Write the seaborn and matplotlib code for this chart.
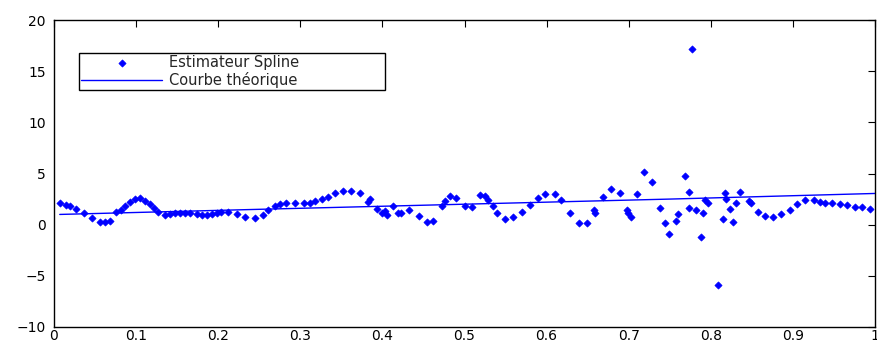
import numpy as np
import pandas as pd
import matplotlib
matplotlib.use("Agg")
import matplotlib.pyplot as plt
import seaborn as sns

# Spline estimate: sample positions and estimated values
x_est = [0.007, 0.015, 0.020, 0.027, 0.036, 0.046, 0.056, 0.062, 0.068, 0.076,
         0.081, 0.086, 0.093, 0.099, 0.105, 0.111, 0.117, 0.122, 0.127, 0.135,
         0.141, 0.147, 0.153, 0.160, 0.166, 0.174, 0.180, 0.186, 0.192, 0.198,
         0.204, 0.212, 0.223, 0.233, 0.245, 0.255, 0.261, 0.269, 0.275, 0.283,
         0.294, 0.304, 0.312, 0.318, 0.326, 0.334, 0.342, 0.352, 0.362, 0.373,
         0.383, 0.385, 0.393, 0.399, 0.403, 0.405, 0.413, 0.419, 0.423, 0.432,
         0.444, 0.454, 0.462, 0.472, 0.476, 0.482, 0.490, 0.501, 0.509, 0.519,
         0.525, 0.529, 0.535, 0.539, 0.549, 0.559, 0.570, 0.580, 0.590, 0.598,
         0.610, 0.618, 0.628, 0.639, 0.649, 0.658, 0.659, 0.669, 0.679, 0.689,
         0.698, 0.699, 0.703, 0.710, 0.719, 0.728, 0.738, 0.744, 0.749, 0.758,
         0.760, 0.768, 0.773, 0.773, 0.777, 0.782, 0.788, 0.791, 0.793, 0.797,
         0.809, 0.815, 0.817, 0.818, 0.823, 0.827, 0.831, 0.836, 0.847, 0.849,
         0.857, 0.866, 0.876, 0.886, 0.896, 0.905, 0.915, 0.926, 0.933, 0.939,
         0.948, 0.957, 0.966, 0.976, 0.984, 0.994]
y_est = [2.15, 1.93, 1.83, 1.57, 1.11, 0.62, 0.23, 0.23, 0.39, 1.27,
         1.44, 1.83, 2.25, 2.48, 2.58, 2.35, 2.02, 1.60, 1.27, 0.95,
         1.01, 1.11, 1.17, 1.17, 1.17, 1.05, 0.92, 0.92, 1.01, 1.17,
         1.27, 1.27, 1.05, 0.79, 0.69, 0.95, 1.44, 1.83, 2.02, 2.09,
         2.09, 2.09, 2.15, 2.32, 2.48, 2.74, 3.07, 3.32, 3.32, 3.07,
         2.25, 2.48, 1.50, 1.10, 1.37, 0.95, 1.83, 1.10, 1.10, 1.44,
         0.85, 0.30, 0.39, 1.83, 2.35, 2.80, 2.58, 1.83, 1.70, 2.90,
         2.80, 2.41, 1.83, 1.10, 0.53, 0.72, 1.24, 1.93, 2.58, 3.00,
         3.00, 2.41, 1.17, 0.20, 0.20, 1.44, 1.17, 2.74, 3.46, 3.07,
         1.44, 1.17, 0.79, 3.00, 5.18, 4.20, 1.60, 0.20, -0.91, 0.36,
         1.05, 4.76, 3.23, 1.60, 17.2, 1.44, -1.17, 1.17, 2.41, 2.09,
         -5.9, 0.53, 3.07, 2.48, 1.50, 0.23, 2.15, 3.23, 2.35, 2.15,
         1.27, 0.85, 0.79, 1.05, 1.47, 2.02, 2.41, 2.41, 2.22, 2.15,
         2.09, 2.02, 1.93, 1.76, 1.70, 1.50]

# Theoretical curve
x_theo = [0.007, 0.25, 0.50, 0.75, 1.00]
y_theo = [1.00, 1.50, 2.00, 2.50, 3.05]

x_ticks = [0, 0.1, 0.2, 0.3, 0.4, 0.5, 0.6, 0.7, 0.8, 0.9, 1]
x_ticklabels = ["0", "0.1", "0.2", "0.3", "0.4", "0.5", "0.6", "0.7", "0.8", "0.9", "1"]
y_ticks = [-10, -5, 0, 5, 10, 15, 20]

df_est = pd.DataFrame({"x": x_est, "y": y_est})
df_theo = pd.DataFrame({"x": x_theo, "y": y_theo})

sns.set_style("white")
plt.rcParams["font.family"] = ["DejaVu Sans"]

fig = plt.figure(figsize=(8.77, 3.45), dpi=100)
ax = fig.add_axes([54 / 877, 18 / 345, 821 / 877, 307 / 345])

blue = "#0000ff"
sns.scatterplot(data=df_est, x="x", y="y", ax=ax, marker="D", s=14,
                color=blue, edgecolor=blue, linewidth=0.4,
                label="Estimateur Spline", zorder=3)
sns.lineplot(data=df_theo, x="x", y="y", ax=ax, color=blue, linewidth=1.0,
             sort=False, label="Courbe théorique", zorder=2)

ax.set_xlim(0, 1)
ax.set_ylim(-10, 20)
ax.set_xticks(x_ticks)
ax.set_xticklabels(x_ticklabels)
ax.set_yticks(y_ticks)
ax.set_xlabel("")
ax.set_ylabel("")

for side in ["left", "right", "top", "bottom"]:
    ax.spines[side].set_visible(True)
    ax.spines[side].set_color("black")
    ax.spines[side].set_linewidth(1.0)

ax.tick_params(axis="both", direction="in", length=5, width=0.8,
               top=True, right=True, labelsize=10, colors="black")
ax.tick_params(axis="x", pad=1.5)
ax.tick_params(axis="y", pad=6)

# Legend box spans a fixed region in the upper-left of the axes
leg = ax.legend(loc="upper left", bbox_to_anchor=(0.030, 0.772, 0.373, 0.121),
                mode="expand", fontsize=10.5, frameon=True, fancybox=False,
                edgecolor="black", framealpha=1, borderpad=0.15,
                handlelength=5.6, handletextpad=0.45, labelspacing=0.15,
                borderaxespad=0, scatterpoints=1, markerscale=1.0)
leg.get_frame().set_linewidth(1.0)

fig.savefig("out.png", dpi=100, facecolor="white")
